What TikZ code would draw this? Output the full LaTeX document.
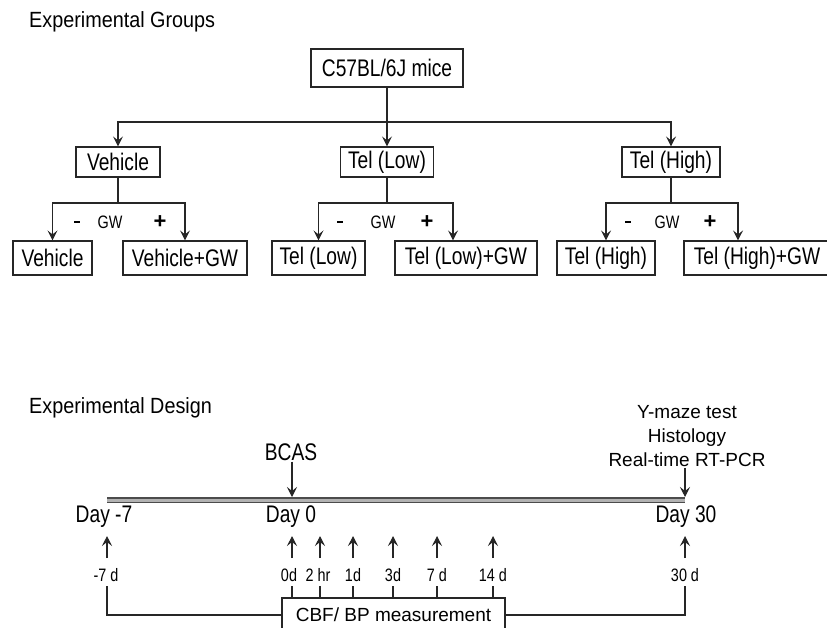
\documentclass[tikz,border=0pt]{standalone}
\usepackage{fontspec}
\setmainfont{Liberation Sans}
\newfontfamily\narrowfont[FakeStretch=0.8]{Liberation Sans}
\newfontfamily\ttlfont[FakeStretch=0.9]{Liberation Sans}
\usetikzlibrary{arrows.meta}
\newcommand\bxfont{\narrowfont\fontsize{24}{27}\selectfont}
\begin{document}
\begin{tikzpicture}[x=1pt,y=-1pt,
  ln/.style={draw=black!85, line width=1.1pt},
  arr/.style={ln, -{Stealth[length=10pt,width=10pt,inset=4pt]}},
  box/.style={draw=black!85, line width=1.1pt, inner sep=0pt, font=\bxfont},
  ttl/.style={anchor=west, inner sep=0pt, font=\ttlfont\fontsize{22}{24}\selectfont},
  sign/.style={inner sep=0pt, font=\narrowfont\fontsize{18}{20}\selectfont},
  plus/.style={inner sep=0pt, font=\bfseries\fontsize{22}{22}\selectfont},
  lbl/.style={inner sep=1pt, font=\bxfont},
  tick/.style={inner sep=0pt, font=\narrowfont\fontsize{18}{20}\selectfont},
  txt/.style={inner sep=1pt, align=center, font=\fontsize{19}{24}\selectfont}
]
\useasboundingbox[fill=white] (0,0) rectangle (827,627);

% ---------- Experimental Groups ----------
\node[ttl] (t1) at (29,22) {Experimental Groups};

\node[box, minimum width=152pt, minimum height=38pt] (top) at (387,68) {C57BL/6J mice};

\node[box, minimum width=84pt, minimum height=30pt] (veh) at (118,162) {Vehicle};
\node[box, minimum width=93pt, minimum height=30pt] (low) at (387,162) {Tel (Low)};
\node[box, minimum width=98pt, minimum height=30pt] (high) at (671,162) {Tel (High)};

\node[box, minimum width=79pt, minimum height=34pt] (v1) at (52.5,258) {Vehicle};
\node[box, minimum width=124pt, minimum height=34pt] (v2) at (185,258) {Vehicle+GW};
\node[box, minimum width=93pt, minimum height=34pt] (l1) at (318.5,258) {Tel (Low)};
\node[box, minimum width=142pt, minimum height=34pt] (l2) at (466,258) {Tel (Low)+GW};
\node[box, minimum width=98pt, minimum height=34pt] (h1) at (606,258) {Tel (High)};
\node[box, minimum width=146pt, minimum height=34pt] (h2) at (757,258) {Tel (High)+GW};

\coordinate (jt) at (387,122);
\coordinate (jl) at (118,122);
\coordinate (jr) at (671,122);
\draw[ln] (top.south) -- (jt);
\draw[arr] (jt) -- (jl) -- (veh.north);
\draw[arr] (jt) -- (jr) -- (high.north);
\draw[arr] (jt) -- (low.north);

% vehicle split
\coordinate (jv) at (118,203);
\coordinate (jvl) at (52.5,203);
\coordinate (jvr) at (185,203);
\draw[ln] (veh.south) -- (jv);
\draw[arr] (jv) -- (jvl) -- (v1.north);
\draw[arr] (jv) -- (jvr) -- (v2.north);
\node[sign] (mv) at (77,222) {\rule{6pt}{2.2pt}};
\node[sign] (gv) at (110,222) {GW};
\node[plus] (pv) at (160,222) {+};

% low split
\coordinate (jo) at (387,203);
\coordinate (jol) at (318.5,203);
\coordinate (jor) at (453,203);
\draw[ln] (low.south) -- (jo);
\draw[arr] (jo) -- (jol) -- (l1.north);
\draw[arr] (jo) -- (jor) -- (jor |- l2.north);
\node[sign] (mo) at (340,222) {\rule{6pt}{2.2pt}};
\node[sign] (go) at (383,222) {GW};
\node[plus] (po) at (427,222) {+};

% high split
\coordinate (jh) at (671,203);
\coordinate (jhl) at (606,203);
\coordinate (jhr) at (738,203);
\draw[ln] (high.south) -- (jh);
\draw[arr] (jh) -- (jhl) -- (h1.north);
\draw[arr] (jh) -- (jhr) -- (jhr |- h2.north);
\node[sign] (mh) at (628,222) {\rule{6pt}{2.2pt}};
\node[sign] (gh) at (667,222) {GW};
\node[plus] (ph) at (710,222) {+};

% ---------- Experimental Design ----------
\node[ttl] (t2) at (29,408) {Experimental Design};

\coordinate (ds) at (107,500);
\coordinate (d0) at (292,500);
\coordinate (de) at (685,500);
\draw[line width=5.5pt, black!70] (ds) -- (de);
\draw[line width=3pt, gray!60] (ds) -- (de);

\node[lbl] (bcas) at (291,452) {BCAS};
\draw[arr] (bcas.south -| d0) -- ([yshift=3pt]d0);

\node[txt] (ym) at (687,436) {Y-maze test\\Histology\\Real-time RT-PCR};
\draw[arr] (ym.south -| de) -- ([yshift=3pt]de);

\node[lbl] (dm7) at (104,517) {Day -7};
\node[lbl] (dz) at (291,517) {Day 0};
\node[lbl] (dt) at (686,517) {Day 30};

\node[tick] (k1) at (106,575) {-7 d};
\node[tick] (k2) at (289,575) {0d};
\node[tick] (k3) at (318,575) {2 hr};
\node[tick] (k4) at (353,575) {1d};
\node[tick] (k5) at (393,575) {3d};
\node[tick] (k6) at (437,575) {7 d};
\node[tick] (k7) at (493,575) {14 d};
\node[tick] (k8) at (685,575) {30 d};

\foreach \x in {107,292,320,353,393,437,493,685}{
  \draw[arr] (\x,558) -- (\x,536);
}

\node[box, font=\fontsize{19}{22}\selectfont, minimum width=223pt, minimum height=34pt] (cbf) at (393.5,615) {CBF/ BP measurement};

\foreach \x in {292,320,353,393,437,493}{
  \draw[ln] (\x,586) -- (\x,0 |- cbf.north);
}
\draw[ln] (107,586) |- (cbf.west);
\draw[ln] (685,586) |- (cbf.east);
\end{tikzpicture}
\end{document}
